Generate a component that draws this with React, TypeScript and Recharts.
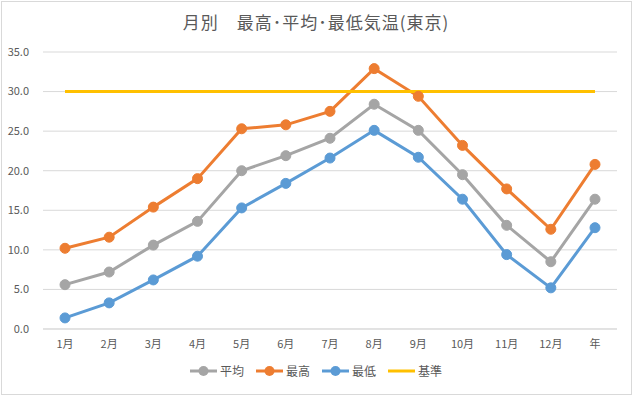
import React from "react";
import {
  LineChart,
  Line,
  XAxis,
  YAxis,
  CartesianGrid,
  Legend,
} from "recharts";

const months = ["1月", "2月", "3月", "4月", "5月", "6月", "7月", "8月", "9月", "10月", "11月", "12月", "年"];
const avgTemp = [5.6, 7.2, 10.6, 13.6, 20.0, 21.9, 24.1, 28.4, 25.1, 19.5, 13.1, 8.5, 16.4];
const maxTemp = [10.2, 11.6, 15.4, 19.0, 25.3, 25.8, 27.5, 32.9, 29.4, 23.2, 17.7, 12.6, 20.8];
const minTemp = [1.4, 3.3, 6.2, 9.2, 15.3, 18.4, 21.6, 25.1, 21.7, 16.4, 9.4, 5.2, 12.8];
const baseLine = [30, 30, 30, 30, 30, 30, 30, 30, 30, 30, 30, 30, 30];
const yTicks = [0, 5, 10, 15, 20, 25, 30, 35];

const FONT = '"Noto Sans CJK JP", "Noto Sans", sans-serif';
const TEXT = "#595959";

const data = months.map((m, i) => ({
  month: m,
  avg: avgTemp[i],
  max: maxTemp[i],
  min: minTemp[i],
  base: baseLine[i],
}));

const SERIES = [
  { key: "avg", name: "平均", color: "#A5A5A5", dot: true },
  { key: "max", name: "最高", color: "#ED7D31", dot: true },
  { key: "min", name: "最低", color: "#5B9BD5", dot: true },
  { key: "base", name: "基準", color: "#FFC000", dot: false },
];

// legend drawn like Excel: line with a marker in the middle
function LegendContent() {
  return (
    <div style={{ display: "flex", justifyContent: "center", gap: 12, fontFamily: FONT, fontSize: 12, color: TEXT }}>
      {SERIES.map((s) => (
        <div key={s.key} style={{ display: "flex", alignItems: "center", gap: 3 }}>
          <svg width={27} height={14}>
            <line x1={0} y1={7} x2={27} y2={7} stroke={s.color} strokeWidth={3} />
            {s.dot && <circle cx={13.5} cy={7} r={5} fill={s.color} />}
          </svg>
          <span>{s.name}</span>
        </div>
      ))}
    </div>
  );
}

export default function App() {
  return (
    <div style={{ position: "fixed", left: 0, top: 0, width: 632, height: 395, background: "#fff" }}>
      <div
        style={{
          position: "absolute",
          top: 11,
          left: 0,
          width: 632,
          textAlign: "center",
          fontFamily: FONT,
          fontSize: 17,
          letterSpacing: 1,
          color: TEXT,
          lineHeight: "22px",
        }}
      >
        月別　最高･平均･最低気温(東京)
      </div>
      <LineChart
        width={632}
        height={395}
        data={data}
        margin={{ top: 52, right: 15, left: 0, bottom: 7 }}
      >
        <CartesianGrid vertical={false} stroke="#d9d9d9" />
        <XAxis
          dataKey="month"
          padding={{ left: 22, right: 22 }}
          stroke="#d9d9d9"
          tickLine={false}
          tickSize={6}
          tickMargin={5}
          height={33}
          interval={0}
          tick={{ fontSize: 11, fill: TEXT, fontFamily: FONT }}
        />
        <YAxis
          domain={[0, 35]}
          ticks={yTicks}
          width={43}
          axisLine={false}
          tickLine={false}
          tickSize={6}
          tickMargin={8}
          tickFormatter={(v: number) => v.toFixed(1)}
          tick={{ fontSize: 11, fill: TEXT, fontFamily: FONT }}
        />
        <Legend
          verticalAlign="bottom"
          height={26}
          wrapperStyle={{ left: 0, width: 632 }}
          content={<LegendContent />}
        />
        {SERIES.map((s) => (
          <Line
            key={s.key}
            dataKey={s.key}
            name={s.name}
            stroke={s.color}
            strokeWidth={3}
            dot={s.dot ? { r: 5, fill: s.color, stroke: s.color, strokeWidth: 1 } : false}
            activeDot={false}
            isAnimationActive={false}
          />
        ))}
      </LineChart>
      <div
        style={{
          position: "absolute",
          left: 1,
          top: 1,
          width: 629,
          height: 392,
          border: "1px solid #d9d9d9",
          pointerEvents: "none",
        }}
      />
    </div>
  );
}
